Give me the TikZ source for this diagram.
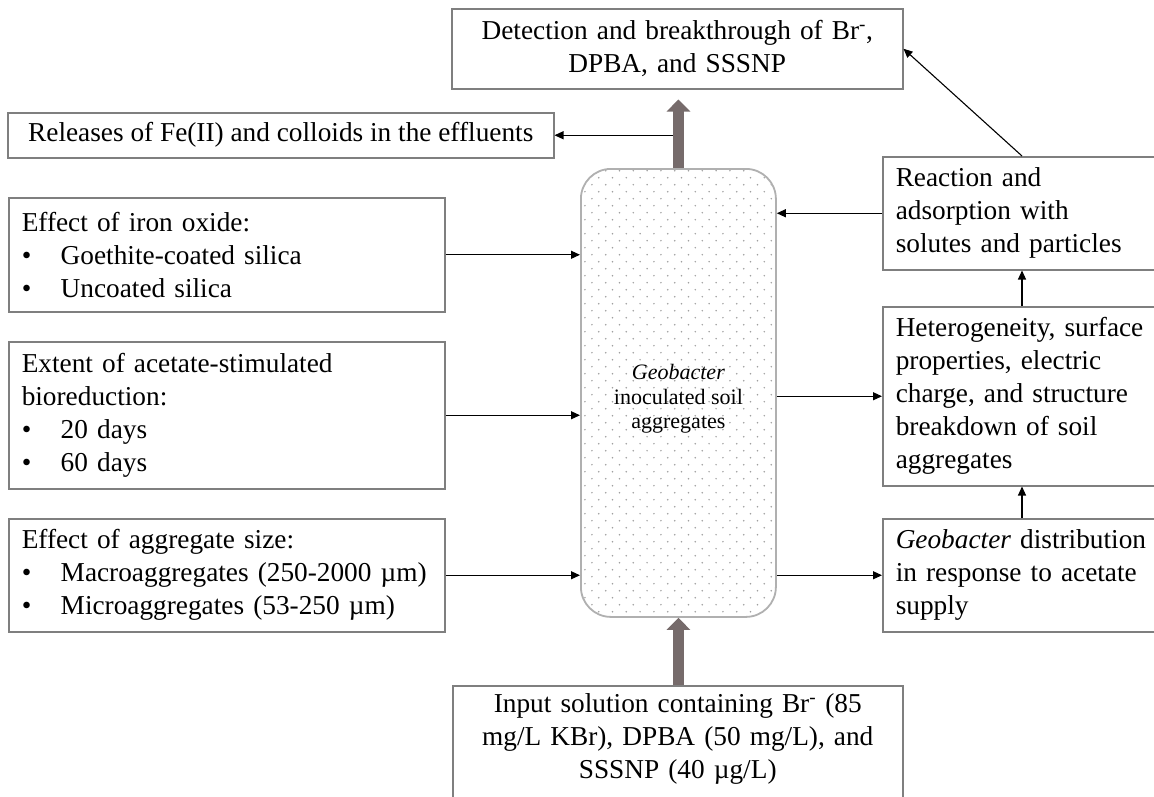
\documentclass[tikz,border=0pt]{standalone}
\usepackage{fontspec}
\setmainfont{Liberation Serif}
\usetikzlibrary{arrows.meta}
\definecolor{boxline}{HTML}{7F7F7F}
\definecolor{fatc}{HTML}{766B6B}
\definecolor{colline}{HTML}{B0B0B0}
\definecolor{dotc}{HTML}{A0A0A0}
\newcommand{\bul}{\makebox[39pt][l]{\textbullet}}
\begin{document}
\begin{tikzpicture}[x=1pt,y=-1pt,
  box/.style={draw=boxline, line width=1.5pt, rectangle, inner xsep=13pt, inner ysep=0pt,
    font=\fontsize{27.3}{33}\selectfont, anchor=north west},
  lbox/.style={box, align=left},
  cbox/.style={box, align=center},
  arr/.style={line width=1.1pt, -{Triangle[length=9pt,width=8pt]}},
  fatarr/.style={line width=11pt, draw=fatc, -{Triangle[length=12pt,width=23pt]}}
]
\useasboundingbox (0,0) rectangle (1154,796);
\clip (0,0) rectangle (1154,796);
\fill[white] (0,0) rectangle (1154,796);

% boxes
\node[cbox, text width=425, minimum height=80] (top) at (451,8)
  {Detection and breakthrough of Br\textsuperscript{-},\\DPBA, and SSSNP};
\node[box, inner xsep=0pt, minimum width=546, minimum height=45] (rel) at (7,112)
  {Releases of Fe(II) and colloids in the effluents};
\node[lbox, text width=410, minimum height=114] (iron) at (8,197)
  {Effect of iron oxide:\\\bul Goethite-coated silica\\\bul Uncoated silica};
\node[lbox, text width=410, minimum height=147] (ext) at (8,341)
  {Extent of acetate-stimulated\\bioreduction:\\\bul 20 days\\\bul 60 days};
\node[lbox, text width=410, minimum height=113] (agg) at (8,518)
  {Effect of aggregate size:\\\bul Macroaggregates (250-2000 µm)\\\bul Microaggregates (53-250 µm)};
\node[lbox, text width=254, minimum height=113] (react) at (882,156)
  {Reaction and\\adsorption with\\solutes and particles};
\node[lbox, text width=254, minimum height=179] (het) at (882,306)
  {Heterogeneity, surface\\properties, electric\\charge, and structure\\breakdown of soil\\aggregates};
\node[lbox, text width=254, minimum height=113] (gdist) at (882,518)
  {\textit{Geobacter} distribution\\in response to acetate\\supply};
\node[cbox, text width=424, text height=27pt, text depth=95pt] (input) at (452,685)
  {Input solution containing Br\textsuperscript{-} (85\\mg/L KBr), DPBA (50 mg/L), and\\SSSNP (40 µg/L)};

% column with dot pattern
\begin{scope}
  \clip[rounded corners=30pt] (580,168) rectangle (775,616);
  \foreach \r in {0,...,64}{
    \pgfmathsetmacro\yy{170.7+7*\r}
    \pgfmathsetmacro\xo{584.9+7*(1-mod(\r,2))}
    \foreach \c in {0,...,14}{
      \fill[dotc] (\xo+13.8*\c,\yy) circle[radius=0.85pt];
    }
  }
\end{scope}
\node[draw=colline, line width=1.8pt, rounded corners=30pt, minimum width=195pt,
  minimum height=448pt, anchor=north west, inner sep=0pt,
  label={[font=\fontsize{22}{24.5}\selectfont, align=center, yshift=-6pt]center:{\textit{Geobacter}\\inoculated soil\\aggregates}}] (col) at (580,168) {};

% thick flow arrows
\draw[fatarr, shorten >=10pt] (col.north) -- (col.north |- top.south);
\draw[fatarr] (col.south |- input.north) -- (col.south);

% thin arrows
\coordinate (relsrc) at ([xshift=-5.5pt]col.north |- rel.east);
\draw[arr] (relsrc) -- (rel.east);
\draw[arr] (iron.east) -- (iron.east -| col.west);
\draw[arr] (ext.east) -- (ext.east -| col.west);
\draw[arr] (agg.east) -- (agg.east -| col.west);
\draw[arr] (react.west) -- (react.west -| col.east);
\draw[arr] (het.west -| col.east) -- (het.west);
\draw[arr] (gdist.west -| col.east) -- (gdist.west);
\coordinate (vx) at (1022,0);
\draw[arr] (vx |- gdist.north) -- (vx |- het.south);
\draw[arr] (vx |- het.north) -- (vx |- react.south);
\draw[arr] (vx |- react.north) -- (top.east);
\end{tikzpicture}
\end{document}
